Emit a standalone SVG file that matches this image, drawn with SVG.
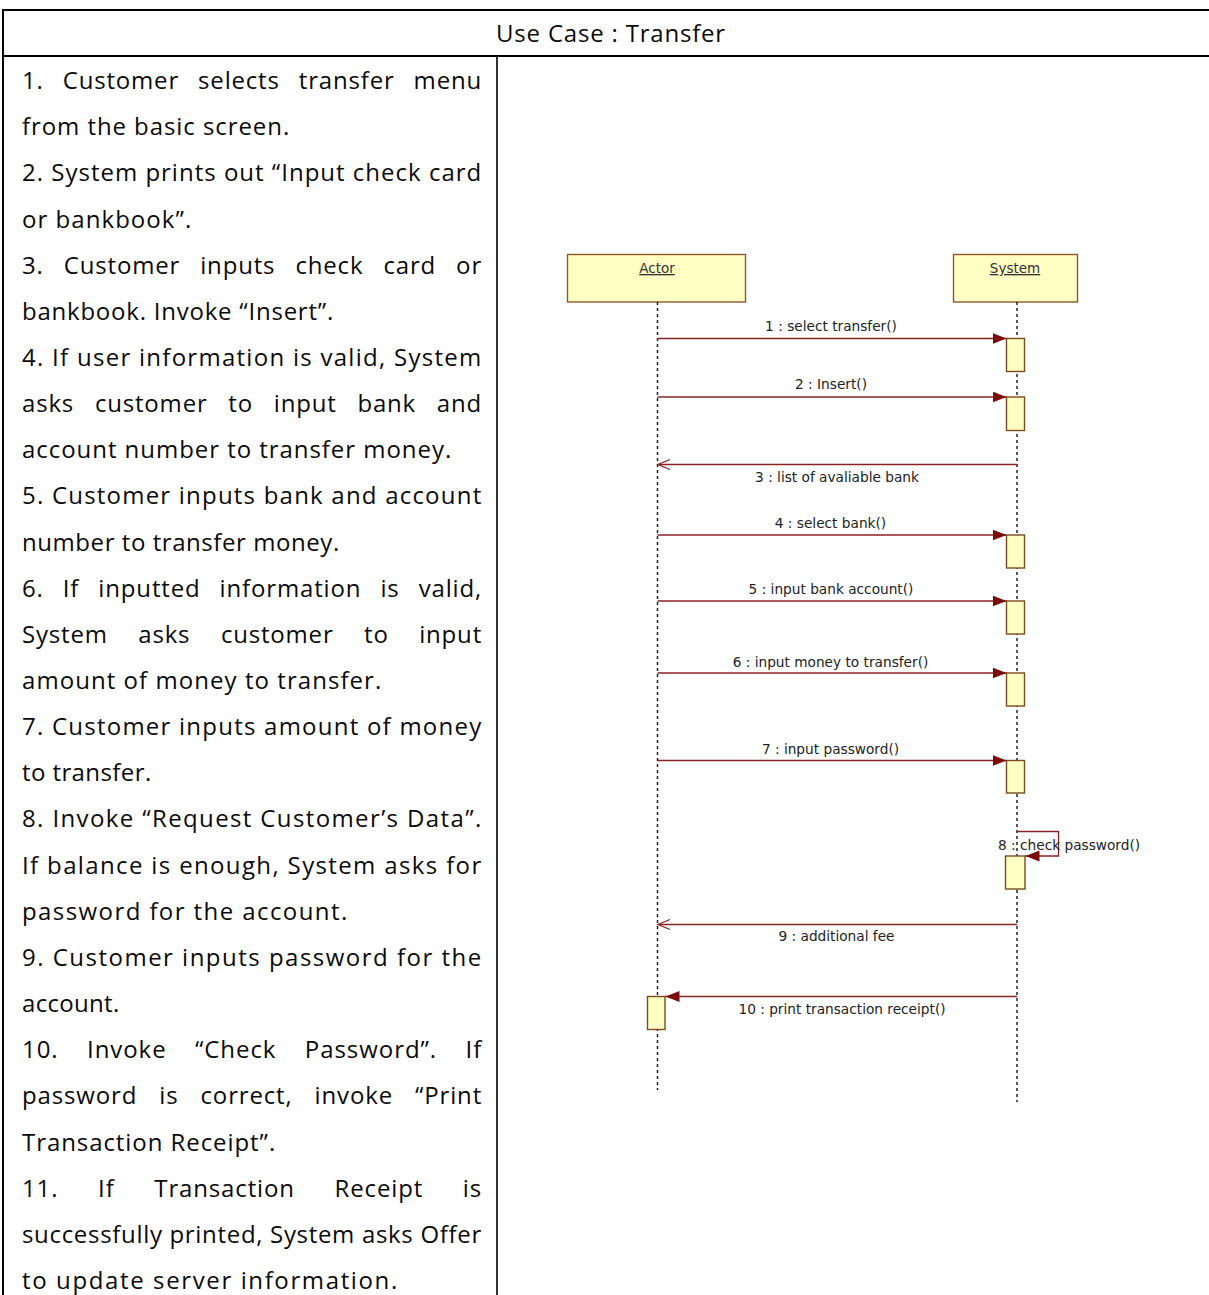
<svg xmlns="http://www.w3.org/2000/svg" width="1209" height="1295" viewBox="0 0 1209 1295">
  <style>
    .tx { font-family: "Open Sans", "Noto Sans", "Liberation Sans", sans-serif; font-size: 24px; letter-spacing: 0.8px; fill: #0a0a0a; }
    .rule { stroke: #000; fill: none; }
    .head { fill: #ffffc4; stroke: #8a5a2e; stroke-width: 1.4; }
    .act { fill: #ffffc4; stroke: #7a4a22; stroke-width: 1.4; }
    .life { stroke: #222; stroke-width: 1.5; stroke-dasharray: 3 3; fill: none; }
    .msg { stroke: #8b2222; stroke-width: 1.3; fill: none; }
    .lbl { font-family: "DejaVu Sans", "Liberation Sans", sans-serif; font-size: 13.7px; fill: #222; }
    .hl { font-family: "DejaVu Sans", "Liberation Sans", sans-serif; font-size: 13.5px; fill: #333; text-decoration: underline; }
  </style>
  <defs>
    <marker id="sync" markerUnits="userSpaceOnUse" markerWidth="15" markerHeight="11" refX="14" refY="5.5" orient="auto">
      <path d="M0,0 L14,5.5 L0,11 Z" fill="#7a0c0c"/>
    </marker>
    <marker id="reply" markerUnits="userSpaceOnUse" markerWidth="14" markerHeight="12" refX="13" refY="6" orient="auto">
      <path d="M1,1 L13,6 L1,11" fill="none" stroke="#8b2222" stroke-width="1.1"/>
    </marker>
  </defs>

  <rect width="1209" height="1295" fill="#fff"/>

  <!-- table frame -->
  <g id="table">
    <line class="rule" x1="2" y1="10" x2="1209" y2="10" stroke-width="2"/>
    <line class="rule" x1="3" y1="9" x2="3" y2="1295" stroke-width="2"/>
    <line class="rule" x1="2" y1="56" x2="1209" y2="56" stroke-width="2"/>
    <line class="rule" x1="497" y1="56" x2="497" y2="1295" stroke-width="1.6"/>
    <text class="tx" x="611" y="42" text-anchor="middle">Use Case : Transfer</text>
  </g>

  <!-- scenario steps: justified lines use word-spacing plus a fixed length -->
  <g id="steps">
    <text class="tx" x="22" y="89" textLength="460" lengthAdjust="spacing" word-spacing="12">1. Customer selects transfer menu</text>
    <text class="tx" x="22" y="135.2" textLength="268" lengthAdjust="spacing">from the basic screen.</text>
    <text class="tx" x="22" y="181.3" textLength="460" lengthAdjust="spacing">2. System prints out “Input check card</text>
    <text class="tx" x="22" y="227.5" textLength="170" lengthAdjust="spacing">or bankbook”.</text>
    <text class="tx" x="22" y="273.6" textLength="460" lengthAdjust="spacing" word-spacing="13">3. Customer inputs check card or</text>
    <text class="tx" x="22" y="319.8" textLength="312" lengthAdjust="spacing">bankbook. Invoke “Insert”.</text>
    <text class="tx" x="22" y="365.9" textLength="460" lengthAdjust="spacing">4. If user information is valid, System</text>
    <text class="tx" x="22" y="412.1" textLength="460" lengthAdjust="spacing" word-spacing="13.8">asks customer to input bank and</text>
    <text class="tx" x="22" y="458.2" textLength="430" lengthAdjust="spacing">account number to transfer money.</text>
    <text class="tx" x="22" y="504.4" textLength="460" lengthAdjust="spacing">5. Customer inputs bank and account</text>
    <text class="tx" x="22" y="550.5" textLength="318" lengthAdjust="spacing">number to transfer money.</text>
    <text class="tx" x="22" y="596.7" textLength="460" lengthAdjust="spacing" word-spacing="12">6. If inputted information is valid,</text>
    <text class="tx" x="22" y="642.8" textLength="460" lengthAdjust="spacing" word-spacing="23.5">System asks customer to input</text>
    <text class="tx" x="22" y="689" textLength="360" lengthAdjust="spacing">amount of money to transfer.</text>
    <text class="tx" x="22" y="735.1" textLength="460" lengthAdjust="spacing">7. Customer inputs amount of money</text>
    <text class="tx" x="22" y="781.3" textLength="130" lengthAdjust="spacing">to transfer.</text>
    <text class="tx" x="22" y="827.4" textLength="460" lengthAdjust="spacing">8. Invoke “Request Customer’s Data”.</text>
    <text class="tx" x="22" y="873.6" textLength="460" lengthAdjust="spacing">If balance is enough, System asks for</text>
    <text class="tx" x="22" y="919.7" textLength="326" lengthAdjust="spacing">password for the account.</text>
    <text class="tx" x="22" y="965.9" textLength="460" lengthAdjust="spacing">9. Customer inputs password for the</text>
    <text class="tx" x="22" y="1012" textLength="98" lengthAdjust="spacing">account.</text>
    <text class="tx" x="22" y="1058.2" textLength="460" lengthAdjust="spacing" word-spacing="21.3">10. Invoke “Check Password”. If</text>
    <text class="tx" x="22" y="1104.3" textLength="460" lengthAdjust="spacing" word-spacing="15">password is correct, invoke “Print</text>
    <text class="tx" x="22" y="1150.5" textLength="254" lengthAdjust="spacing">Transaction Receipt”.</text>
    <text class="tx" x="22" y="1196.6" textLength="460" lengthAdjust="spacing" word-spacing="32.7">11. If Transaction Receipt is</text>
    <text class="tx" x="22" y="1242.8" textLength="460" lengthAdjust="spacing">successfully printed, System asks Offer</text>
    <text class="tx" x="22" y="1288.9" textLength="376" lengthAdjust="spacing">to update server information.</text>
  </g>

  <!-- lifeline: Actor -->
  <g id="actor">
    <rect class="head" x="567.5" y="254.5" width="178" height="47.5"/>
    <text class="hl" x="657" y="273" text-anchor="middle">Actor</text>
    <line class="life" x1="657.5" y1="302" x2="657.5" y2="1090"/>
    <rect class="act" x="647.5" y="996.5" width="17.5" height="33"/>
  </g>

  <!-- lifeline: System -->
  <g id="system">
    <rect class="head" x="953.5" y="254.5" width="124" height="47.5"/>
    <text class="hl" x="1015" y="273" text-anchor="middle">System</text>
    <line class="life" x1="1017" y1="302" x2="1017" y2="1102"/>
    <rect class="act" x="1006.5" y="338.5" width="18" height="33"/>
    <rect class="act" x="1006.5" y="397" width="18" height="33.5"/>
    <rect class="act" x="1006.5" y="535" width="18" height="33"/>
    <rect class="act" x="1006.5" y="601" width="18" height="33"/>
    <rect class="act" x="1006.5" y="673" width="18" height="33"/>
    <rect class="act" x="1006.5" y="760.5" width="18" height="32.5"/>
    <rect class="act" x="1005.5" y="856" width="19.5" height="33"/>
  </g>

  <!-- messages -->
  <g id="connectors">
    <line class="msg" x1="657.5" y1="338.5" x2="1006.5" y2="338.5" marker-end="url(#sync)"/>
    <text class="lbl" x="831" y="331" text-anchor="middle">1 : select transfer()</text>

    <line class="msg" x1="657.5" y1="397" x2="1006.5" y2="397" marker-end="url(#sync)"/>
    <text class="lbl" x="831" y="389" text-anchor="middle">2 : Insert()</text>

    <line class="msg" x1="1017" y1="464.5" x2="658" y2="464.5" marker-end="url(#reply)"/>
    <text class="lbl" x="837" y="482" text-anchor="middle">3 : list of avaliable bank</text>

    <line class="msg" x1="657.5" y1="535" x2="1006.5" y2="535" marker-end="url(#sync)"/>
    <text class="lbl" x="830.5" y="528" text-anchor="middle">4 : select bank()</text>

    <line class="msg" x1="657.5" y1="601" x2="1006.5" y2="601" marker-end="url(#sync)"/>
    <text class="lbl" x="831" y="594" text-anchor="middle">5 : input bank account()</text>

    <line class="msg" x1="657.5" y1="673" x2="1006.5" y2="673" marker-end="url(#sync)"/>
    <text class="lbl" x="830.5" y="666.5" text-anchor="middle">6 : input money to transfer()</text>

    <line class="msg" x1="657.5" y1="760.5" x2="1006.5" y2="760.5" marker-end="url(#sync)"/>
    <text class="lbl" x="830.5" y="753.5" text-anchor="middle">7 : input password()</text>

    <path class="msg" d="M1017,831.5 H1058.5 V856 H1025.5" stroke="#5a1010" stroke-width="1" marker-end="url(#sync)"/>
    <text class="lbl" x="998" y="850">8 : check password()</text>

    <line class="msg" x1="1017" y1="924.5" x2="658" y2="924.5" marker-end="url(#reply)"/>
    <text class="lbl" x="836.5" y="941" text-anchor="middle">9 : additional fee</text>

    <line class="msg" x1="1017" y1="996.5" x2="665.5" y2="996.5" marker-end="url(#sync)"/>
    <text class="lbl" x="842" y="1014" text-anchor="middle">10 : print transaction receipt()</text>
  </g>
</svg>
